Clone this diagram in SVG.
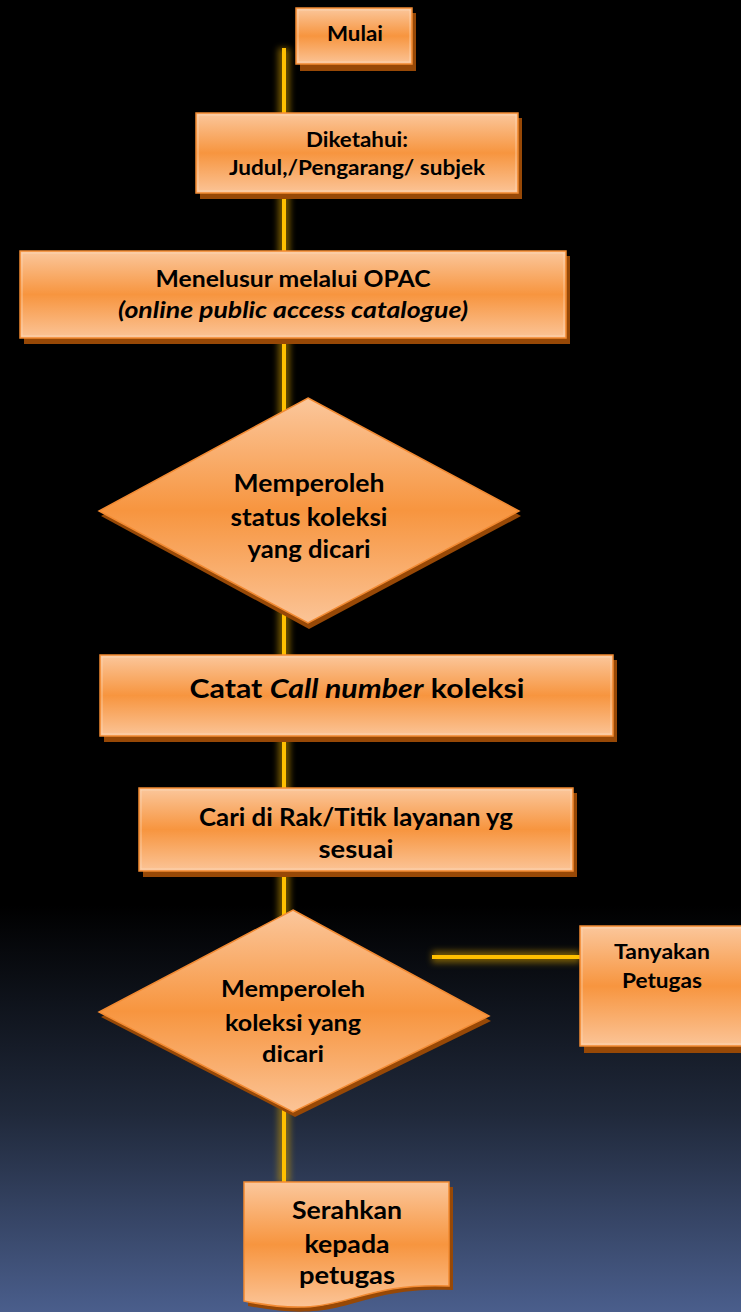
<svg xmlns="http://www.w3.org/2000/svg" width="741" height="1312" viewBox="0 0 741 1312">
<defs>
<linearGradient id="bg" x1="0" y1="0" x2="0" y2="1312" gradientUnits="userSpaceOnUse">
<stop offset="0" stop-color="#000"/>
<stop offset="0.69" stop-color="#000"/>
<stop offset="0.85" stop-color="#20293b"/>
<stop offset="1" stop-color="#4a5e8c"/>
</linearGradient>
<linearGradient id="og" x1="0" y1="0" x2="0" y2="1">
<stop offset="0" stop-color="#fbc79c"/>
<stop offset="0.5" stop-color="#f7953f"/>
<stop offset="1" stop-color="#fbc497"/>
</linearGradient>
<filter id="glow" x="-50%" y="-5%" width="200%" height="110%">
<feGaussianBlur stdDeviation="3"/>
</filter>
</defs>
<style>
.sh{fill:#974806}
.bx{fill:url(#og);stroke:#f28a32;stroke-width:1.5}
.in{fill:none;stroke:#fde0c4;stroke-width:1;opacity:0.6}
.t{font-family:Lato,"Open Sans",sans-serif;font-weight:bold;fill:#000;text-anchor:middle}
.i{font-style:italic}
.gl{stroke:#c99700;stroke-width:12;opacity:0.55;fill:none;filter:url(#glow)}
.ln{stroke:#ffc000;stroke-width:4;fill:none}
</style>
<rect x="0" y="0" width="741" height="1312" fill="url(#bg)"/>
<g id="connectors">
<path class="gl" d="M284,48 V1183 M432,957 H580"/>
<path class="ln" d="M284,48 V1183 M432,957 H580"/>
</g>
<g id="mulai">
<rect class="sh" x="300" y="13" width="116" height="58"/>
<rect class="bx" x="296" y="8" width="116" height="56"/>
<rect class="in" x="298" y="10" width="112" height="52"/>
<text class="t" x="355" y="41" font-size="21" textLength="56" lengthAdjust="spacingAndGlyphs">Mulai</text>
</g>
<g id="diketahui">
<rect class="sh" x="200" y="118" width="322" height="81"/>
<rect class="bx" x="196" y="113" width="322" height="80"/>
<rect class="in" x="198" y="115" width="318" height="76"/>
<text class="t" x="357" y="147" font-size="21.5" textLength="102" lengthAdjust="spacingAndGlyphs">Diketahui:</text>
<text class="t" x="357" y="175" font-size="21.5" textLength="256" lengthAdjust="spacingAndGlyphs">Judul,/Pengarang/ subjek</text>
</g>
<g id="menelusur">
<rect class="sh" x="24" y="256" width="546" height="88"/>
<rect class="bx" x="20" y="251" width="546" height="87"/>
<rect class="in" x="22" y="253" width="542" height="83"/>
<text class="t" x="293" y="287" font-size="22.5" textLength="275" lengthAdjust="spacingAndGlyphs">Menelusur melalui OPAC</text>
<text class="t i" x="293" y="318" font-size="22.5" textLength="350" lengthAdjust="spacingAndGlyphs">(online public access catalogue)</text>
</g>
<g id="status">
<polygon class="sh" points="309,403 521,516 309,629 101,516"/>
<polygon class="bx" points="308,398 519,511 308,623 99,511"/>
<text class="t" x="309" y="492" font-size="25" textLength="151" lengthAdjust="spacingAndGlyphs">Memperoleh</text>
<text class="t" x="309" y="526" font-size="25" textLength="157" lengthAdjust="spacingAndGlyphs">status koleksi</text>
<text class="t" x="309" y="558" font-size="25" textLength="123" lengthAdjust="spacingAndGlyphs">yang dicari</text>
</g>
<g id="catat">
<rect class="sh" x="104" y="660" width="513" height="82"/>
<rect class="bx" x="100" y="655" width="513" height="81"/>
<rect class="in" x="102" y="657" width="509" height="77"/>
<text class="t" x="357" y="698" font-size="27" textLength="335" lengthAdjust="spacingAndGlyphs">Catat <tspan class="i">Call number</tspan> koleksi</text>
</g>
<g id="cari">
<rect class="sh" x="143" y="793" width="434" height="84"/>
<rect class="bx" x="139" y="788" width="434" height="83"/>
<rect class="in" x="141" y="790" width="430" height="79"/>
<text class="t" x="356" y="826" font-size="24" textLength="314" lengthAdjust="spacingAndGlyphs">Cari di Rak/Titik layanan yg</text>
<text class="t" x="356" y="858" font-size="24" textLength="75" lengthAdjust="spacingAndGlyphs">sesuai</text>
</g>
<g id="koleksi">
<polygon class="sh" points="295,915 491,1021 295,1117 101,1017"/>
<polygon class="bx" points="293,910 489,1016 293,1112 99,1012"/>
<text class="t" x="293" y="997" font-size="23.5" textLength="144" lengthAdjust="spacingAndGlyphs">Memperoleh</text>
<text class="t" x="293" y="1031" font-size="23.5" textLength="136" lengthAdjust="spacingAndGlyphs">koleksi yang</text>
<text class="t" x="293" y="1062" font-size="23.5" textLength="62" lengthAdjust="spacingAndGlyphs">dicari</text>
</g>
<g id="tanyakan">
<rect class="sh" x="584" y="931" width="161" height="122"/>
<rect class="bx" x="580" y="926" width="165" height="120"/>
<rect class="in" x="582" y="928" width="161" height="116"/>
<text class="t" x="662" y="959" font-size="21.5" textLength="96" lengthAdjust="spacingAndGlyphs">Tanyakan</text>
<text class="t" x="662" y="988" font-size="21.5" textLength="80" lengthAdjust="spacingAndGlyphs">Petugas</text>
</g>
<g id="serahkan">
<path class="sh" d="M248,1187 H453 V1290 C350,1286 352,1326 248,1306 Z"/>
<path class="bx" d="M244,1182 H449 V1286 C346,1282 348,1322 244,1301 Z"/>
<text class="t" x="347" y="1219" font-size="25.5" textLength="110" lengthAdjust="spacingAndGlyphs">Serahkan</text>
<text class="t" x="347" y="1253" font-size="25.5" textLength="85" lengthAdjust="spacingAndGlyphs">kepada</text>
<text class="t" x="347" y="1284" font-size="25.5" textLength="96" lengthAdjust="spacingAndGlyphs">petugas</text>
</g>
</svg>
